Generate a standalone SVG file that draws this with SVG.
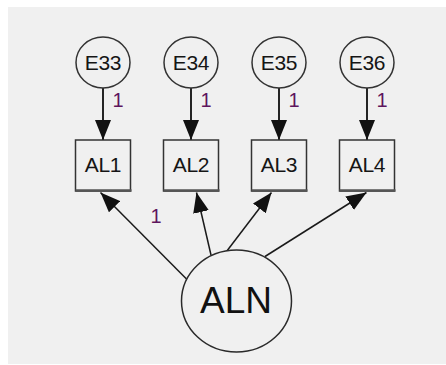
<svg xmlns="http://www.w3.org/2000/svg" width="446" height="365" viewBox="0 0 446 365">
  <defs>
    <marker id="head" viewBox="0 0 20 16" refX="20" refY="8" markerWidth="20" markerHeight="16" markerUnits="userSpaceOnUse" orient="auto">
      <path d="M0,0 L20,8 L0,16 z" fill="#111"/>
    </marker>
    <style>
      .err { fill: #f0f0f0; stroke: #333; stroke-width: 1.5; }
      .obs { fill: #f0f0f0; stroke: #333; stroke-width: 1.5; }
      .shadow { stroke: #555; stroke-width: 2.6; }
      .lat { fill: #f0f0f0; stroke: #2a2a2a; stroke-width: 1.5; }
      .lbl { font-family: "Liberation Sans", Arial, sans-serif; font-size: 21px; fill: #151515; text-anchor: middle; letter-spacing: -0.3px; }
      .big { font-family: "Liberation Sans", Arial, sans-serif; font-size: 37px; fill: #111; text-anchor: middle; }
      .w { font-family: "Liberation Sans", Arial, sans-serif; font-size: 20px; fill: #5e155e; text-anchor: middle; }
      .path { stroke: #1a1a1a; fill: none; marker-end: url(#head); }
      .p1 { stroke-width: 1.9; }
      .p2 { stroke-width: 1.5; }
    </style>
  </defs>

  <!-- canvas -->
  <rect x="0" y="0" width="446" height="365" fill="#ffffff"/>
  <rect x="8" y="7" width="438" height="357" fill="#f0f0f0"/>

  <!-- connectors -->
  <g id="connectors">
    <line class="path p1" x1="103" y1="88" x2="103" y2="140"/>
    <line class="path p1" x1="191" y1="88" x2="191" y2="140"/>
    <line class="path p1" x1="279" y1="88" x2="279" y2="140"/>
    <line class="path p1" x1="367" y1="88" x2="367" y2="140"/>

    <line class="path p2" x1="186.5" y1="279" x2="100.5" y2="192.5"/>
    <line class="path p2" x1="211" y1="255" x2="196.5" y2="192.5"/>
    <line class="path p2" x1="226.5" y1="251.5" x2="271.5" y2="192.5"/>
    <line class="path p2" x1="265" y1="256.5" x2="366.5" y2="192.5"/>

    <text class="w" x="118" y="107">1</text>
    <text class="w" x="206" y="107">1</text>
    <text class="w" x="294" y="107">1</text>
    <text class="w" x="382" y="107">1</text>
    <text class="w" x="156" y="223">1</text>
  </g>

  <!-- error terms -->
  <g id="E33"><ellipse class="err" cx="103" cy="62.5" rx="27" ry="25.5"/><text class="lbl" x="103" y="70">E33</text></g>
  <g id="E34"><ellipse class="err" cx="191" cy="62.5" rx="27" ry="25.5"/><text class="lbl" x="191" y="70">E34</text></g>
  <g id="E35"><ellipse class="err" cx="279" cy="62.5" rx="27" ry="25.5"/><text class="lbl" x="279" y="70">E35</text></g>
  <g id="E36"><ellipse class="err" cx="367" cy="62.5" rx="27" ry="25.5"/><text class="lbl" x="367" y="70">E36</text></g>

  <!-- observed variables -->
  <g id="AL1"><rect class="obs" x="75.5" y="140" width="55" height="51"/><line class="shadow" x1="75.5" y1="190.5" x2="131.5" y2="190.5"/><text class="lbl" x="103" y="172">AL1</text></g>
  <g id="AL2"><rect class="obs" x="163.5" y="140" width="55" height="51"/><line class="shadow" x1="163.5" y1="190.5" x2="219.5" y2="190.5"/><text class="lbl" x="191" y="172">AL2</text></g>
  <g id="AL3"><rect class="obs" x="251.5" y="140" width="55" height="51"/><line class="shadow" x1="251.5" y1="190.5" x2="307.5" y2="190.5"/><text class="lbl" x="279" y="172">AL3</text></g>
  <g id="AL4"><rect class="obs" x="339.5" y="140" width="55" height="51"/><line class="shadow" x1="339.5" y1="190.5" x2="395.5" y2="190.5"/><text class="lbl" x="367" y="172">AL4</text></g>

  <!-- latent factor -->
  <g id="ALN"><ellipse class="lat" cx="236.5" cy="301" rx="55" ry="51"/><text class="big" x="236" y="312.5">ALN</text></g>
</svg>
